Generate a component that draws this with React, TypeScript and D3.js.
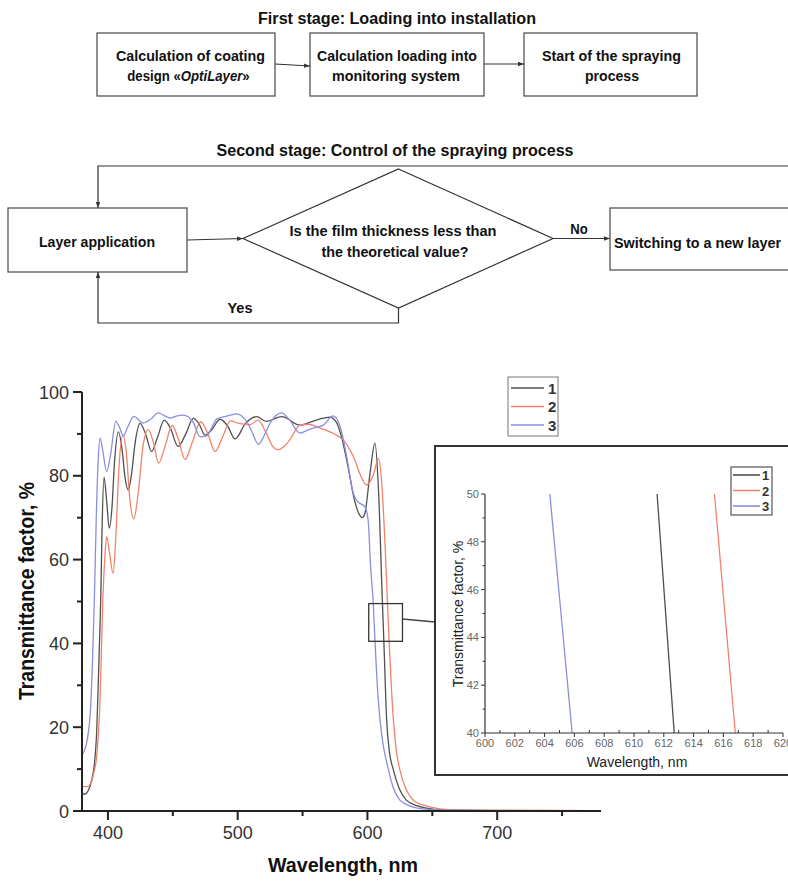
import React from "react";
import * as d3 from "d3";

const W = 788;
const H = 881;

// Transmittance spectra, [wavelength nm, transmittance %]
const curve1: [number, number][] = [
  [380, 4.3], [382, 4.0], [385, 5.0], [387.5, 7.4], [389.5, 11], [391.3, 18.6], [393.3, 38.4],
  [394.4, 50], [395.5, 68], [397, 79.7], [399, 74], [401, 67.5], [403, 72], [405, 83], [408, 90.5],
  [411, 86], [413, 80], [415.7, 76.6], [418, 80], [421, 88], [424.7, 92.5], [429, 90], [433.7, 85.8],
  [438, 89], [443.4, 93.3], [448, 91.5], [454, 87], [460, 90], [465.8, 93.7], [470, 92.5],
  [474.8, 89.7], [480, 91], [486.4, 93.5], [492, 92], [498, 88.8], [506, 92.5], [514.6, 94.1],
  [522, 93], [534, 94.1], [548, 92.1], [556, 92.8], [563, 93.5], [571, 94], [576, 92.8],
  [580, 89.3], [585, 82.2], [590, 74.2], [594, 70.6], [596, 70], [598, 71], [602, 80.6],
  [605.8, 87.8], [608.4, 77.4], [611.5, 50], [612.7, 40], [614.8, 21.7], [617, 14], [620, 9.8],
  [625, 5], [630, 2.6], [638, 1.3], [645.6, 0.7], [660, 0.2], [700, 0.1], [780, 0.1],
];

const curve2: [number, number][] = [
  [380, 5.8], [384, 5.8], [386.5, 6.5], [389, 9], [391.3, 13], [393.9, 26.5], [396, 50],
  [397.5, 60], [399, 65.5], [401, 62], [404, 56.7], [406, 65], [408.5, 82], [411.5, 89.7],
  [414, 86], [417, 74], [420, 69.7], [423, 75], [427, 87], [431, 91], [435, 88], [439, 83],
  [444, 87], [449.5, 92], [454, 89], [459.4, 83.9], [465, 88], [471.5, 92.9], [477, 90],
  [482.5, 85.8], [488, 89], [494.5, 93.1], [501, 92.5], [509.5, 92.2], [515.6, 93.3],
  [522, 90.2], [527, 87], [531, 86.2], [535, 86.8], [540, 88.5], [548, 92.1], [555, 92.3],
  [561, 91.7], [567, 91], [573.7, 90.1], [581.4, 88.5], [586.5, 86.2], [590, 84], [594, 80.6],
  [599.4, 77.8], [604, 79.8], [608.7, 84.1], [611, 78.3], [613.5, 64], [615.4, 50], [616.8, 40],
  [620, 21.7], [622, 15], [625, 9.8], [630, 5], [635.3, 2.6], [642, 1.5], [648, 1], [660, 0.4],
  [700, 0.2], [780, 0.1],
];

const curve3: [number, number][] = [
  [380, 13.4], [383, 15.5], [385, 19], [386.5, 24], [388, 35], [389.5, 50], [391, 70],
  [392.5, 84], [394, 89], [396, 86], [399, 81], [402, 85], [406, 93], [409, 91.5], [411.8, 89.5],
  [415, 91.5], [420, 94.2], [427, 92.6], [433, 93.5], [438.6, 95], [448, 93.8], [452, 94.2],
  [458, 94.5], [465.5, 92.9], [471, 89.3], [476, 89.5], [480, 91.5], [484, 93.6], [491, 94.2],
  [499, 94.8], [507, 92.9], [511, 90.5], [516, 87.5], [521, 90], [525, 92.6], [534, 95],
  [540, 93.3], [548, 90.2], [553, 90.8], [558, 91.4], [566, 92.1], [573.5, 94.3], [579, 91.7],
  [584, 84.6], [589, 75.9], [592, 74], [595, 73.3], [598, 72.6], [600.5, 69.5], [602.5, 58],
  [604.4, 50], [605.9, 40], [608, 28], [609.7, 21.7], [612, 16], [615, 11.4], [620, 5.5],
  [625, 2.6], [632, 1.3], [643, 0.5], [660, 0.2], [700, 0.1], [780, 0.1],
];

// inset (zoom 600-620 nm, 40-50 %)
const inset1: [number, number][] = [[611.55, 50], [612.7, 40]];
const inset2: [number, number][] = [[615.4, 50], [616.8, 40]];
const inset3: [number, number][] = [[604.35, 50], [605.85, 40]];

const seriesNames = ["1", "2", "3"];
const colors = ["#505050", "#f2826b", "#8a8ee0"];

const xMajor = [400, 500, 600, 700];
const xMinor = [450, 550, 650, 750];
const yMajor = [0, 20, 40, 60, 80, 100];
const yMinor = [10, 30, 50, 70, 90];

const insetXMajor = [600, 602, 604, 606, 608, 610, 612, 614, 616, 618, 620];
const insetYMajor = [40, 42, 44, 46, 48, 50];

// region marked on the main chart
const zoomX = [601, 627];
const zoomY = [40.5, 49.5];

const x = d3.scaleLinear().domain([380, 780]).range([82, 601]);
const y = d3.scaleLinear().domain([0, 100]).range([811, 392]);
const xi = d3.scaleLinear().domain([600, 620]).range([485, 783]);
const yi = d3.scaleLinear().domain([40, 50]).range([733, 494]);

const mainLine = d3
  .line<[number, number]>()
  .x((d) => x(d[0]))
  .y((d) => y(d[1]))
  .curve(d3.curveMonotoneX);

const insetLine = d3
  .line<[number, number]>()
  .x((d) => xi(d[0]))
  .y((d) => yi(d[1]));

const NARROW = "'Liberation Sans Narrow', 'Arial Narrow', 'Liberation Sans', Arial, sans-serif";
const SANS = "'Liberation Sans', Arial, sans-serif";

function FlowText(p: { x: number; y: number; w: number; size?: number; children: React.ReactNode; anchor?: string }) {
  return (
    <text
      x={p.x}
      y={p.y}
      textAnchor={p.anchor || "middle"}
      fontFamily={NARROW}
      fontWeight="bold"
      fontSize={p.size || 15}
      fill="#111"
      textLength={p.w}
      lengthAdjust="spacingAndGlyphs"
    >
      {p.children}
    </text>
  );
}

function Flowchart() {
  const box = { fill: "white", stroke: "#555", strokeWidth: 1.3 };
  const arr = { stroke: "#333", strokeWidth: 1.2, fill: "none", markerEnd: "url(#arrow)" };
  return (
    <g>
      <defs>
        <marker id="arrow" viewBox="0 0 8 6" refX="8" refY="3" markerWidth="6" markerHeight="5" orient="auto" markerUnits="userSpaceOnUse">
          <path d="M0,0 L8,3 L0,6 Z" fill="#333" />
        </marker>
      </defs>
      <FlowText x={397} y={24} w={278} size={16}>First stage: Loading into installation</FlowText>

      <rect x={97} y={33} width={178} height={63} {...box} />
      <rect x={310} y={33} width={174} height={63} {...box} />
      <rect x={524} y={33} width={173} height={63} {...box} />
      <line x1={275} y1={64} x2={310} y2={66} {...arr} />
      <line x1={484} y1={64} x2={524} y2={64} {...arr} />

      <FlowText x={190.5} y={61} w={149}>Calculation of coating</FlowText>
      <text
        transform="translate(188.5,81) scale(0.88,1)"
        textAnchor="middle"
        fontFamily={NARROW}
        fontWeight="bold"
        fontSize={15}
        fill="#111"
      >
        design «<tspan fontStyle="italic">OptiLayer</tspan>»
      </text>
      <FlowText x={397} y={61} w={160}>Calculation loading into</FlowText>
      <FlowText x={396} y={81} w={128}>monitoring system</FlowText>
      <FlowText x={611.5} y={61} w={139}>Start of the spraying</FlowText>
      <FlowText x={612} y={81} w={54}>process</FlowText>

      <FlowText x={395} y={156} w={357} size={16}>Second stage: Control of the spraying process</FlowText>

      <polyline points="790,166 98,166 98,208" {...arr} />
      <rect x={8} y={208} width={179} height={64} {...box} />
      <FlowText x={97} y={247} w={116}>Layer application</FlowText>
      <line x1={187} y1={240} x2={243} y2={238.5} {...arr} />

      <polygon points="398.5,169 553,238.5 398.5,308 243,238.5" fill="white" stroke="#333" strokeWidth={1.2} />
      <FlowText x={393} y={236} w={207}>Is the film thickness less than</FlowText>
      <FlowText x={395} y={257} w={147}>the theoretical value?</FlowText>

      <FlowText x={579} y={234} w={17.5}>No</FlowText>
      <line x1={553} y1={238.5} x2={610} y2={238.5} {...arr} />
      <rect x={610} y={208} width={200} height={62} {...box} />
      <FlowText x={614} y={248} w={167} anchor="start">Switching to a new layer</FlowText>

      <polyline points="398.5,308 398.5,323 98,323 98,272" {...arr} />
      <FlowText x={240} y={313} w={25}>Yes</FlowText>
    </g>
  );
}

function MainChart() {
  const curves = [curve1, curve2, curve3];
  const insets = [inset1, inset2, inset3];
  const axisColor = "#222";
  return (
    <g>
      {curves.map((c, i) => (
        <path key={i} d={mainLine(c) || ""} fill="none" stroke={colors[i]} strokeWidth={1.3} />
      ))}

      {/* axes */}
      <line x1={x.range()[0]} x2={x.range()[1]} y1={y(0)} y2={y(0)} stroke={axisColor} strokeWidth={2} />
      <line x1={x.range()[0]} x2={x.range()[0]} y1={y(0) + 1} y2={y(100)} stroke={axisColor} strokeWidth={2} />
      {xMajor.map((t) => (
        <g key={t}>
          <line x1={x(t)} x2={x(t)} y1={y(0)} y2={y(0) + 9} stroke={axisColor} strokeWidth={2} />
          <text x={x(t)} y={839} textAnchor="middle" fontFamily={SANS} fontSize={18} fill="#333">{t}</text>
        </g>
      ))}
      {xMinor.map((t) => (
        <line key={t} x1={x(t)} x2={x(t)} y1={y(0)} y2={y(0) + 5} stroke={axisColor} strokeWidth={2} />
      ))}
      {yMajor.map((t) => (
        <g key={t}>
          <line x1={x.range()[0] - 9} x2={x.range()[0]} y1={y(t)} y2={y(t)} stroke={axisColor} strokeWidth={2} />
          <text x={69} y={y(t) + 6.5} textAnchor="end" fontFamily={SANS} fontSize={18} fill="#333">{t}</text>
        </g>
      ))}
      {yMinor.map((t) => (
        <line key={t} x1={x.range()[0] - 5} x2={x.range()[0]} y1={y(t)} y2={y(t)} stroke={axisColor} strokeWidth={2} />
      ))}

      <text
        transform="translate(34,591) rotate(-90)"
        textAnchor="middle"
        fontFamily={NARROW}
        fontWeight="bold"
        fontSize={22}
        fill="#111"
        textLength={218}
        lengthAdjust="spacingAndGlyphs"
      >
        Transmittance factor, %
      </text>
      <text
        x={343}
        y={872}
        textAnchor="middle"
        fontFamily={NARROW}
        fontWeight="bold"
        fontSize={21}
        fill="#111"
        textLength={150}
        lengthAdjust="spacingAndGlyphs"
      >
        Wavelength, nm
      </text>

      {/* legend */}
      <rect x={508} y={377} width={50} height={59} fill="white" stroke="#777" strokeWidth={1} />
      {seriesNames.map((s, i) => (
        <g key={s}>
          <line x1={511} x2={544} y1={388 + i * 18.5} y2={388 + i * 18.5} stroke={colors[i]} strokeWidth={1.6} />
          <text x={548} y={393.5 + i * 18.5} fontFamily={SANS} fontWeight="bold" fontSize={15} fill="#333">{s}</text>
        </g>
      ))}

      {/* zoom marker */}
      <rect
        x={x(zoomX[0])}
        y={y(zoomY[1])}
        width={x(zoomX[1]) - x(zoomX[0])}
        height={y(zoomY[0]) - y(zoomY[1])}
        fill="none"
        stroke="#333"
        strokeWidth={1.3}
      />
      <line x1={x(zoomX[1])} y1={619} x2={435} y2={622} stroke="#444" strokeWidth={1.3} />

      {/* inset */}
      <rect x={435} y={446} width={360} height={329} fill="white" stroke="#333" strokeWidth={2} />
      {insets.map((c, i) => (
        <path key={i} d={insetLine(c) || ""} fill="none" stroke={colors[i]} strokeWidth={1.3} />
      ))}
      <line x1={xi(600)} x2={xi(620)} y1={yi(40)} y2={yi(40)} stroke="#333" strokeWidth={1.2} />
      <line x1={xi(600)} x2={xi(600)} y1={yi(40)} y2={yi(50)} stroke="#333" strokeWidth={1.2} />
      {insetXMajor.map((t) => (
        <g key={t}>
          <line x1={xi(t)} x2={xi(t)} y1={yi(40)} y2={yi(40) + 4} stroke="#333" strokeWidth={1} />
          {t < 620 && <line x1={xi(t + 1)} x2={xi(t + 1)} y1={yi(40)} y2={yi(40) - 3} stroke="#333" strokeWidth={1} />}
          <text x={xi(t)} y={747} textAnchor="middle" fontFamily={SANS} fontSize={11} fill="#666">{t}</text>
        </g>
      ))}
      {insetYMajor.map((t) => (
        <g key={t}>
          <line x1={xi(600) - 4} x2={xi(600)} y1={yi(t)} y2={yi(t)} stroke="#333" strokeWidth={1} />
          {t < 50 && <line x1={xi(600) - 2.5} x2={xi(600)} y1={yi(t + 1)} y2={yi(t + 1)} stroke="#333" strokeWidth={1} />}
          <text x={479} y={yi(t) + 4} textAnchor="end" fontFamily={SANS} fontSize={11} fill="#666">{t}</text>
        </g>
      ))}
      <text transform="translate(463,614) rotate(-90)" textAnchor="middle" fontFamily={SANS} fontSize={14} fill="#222">
        Transmittance factor, %
      </text>
      <text x={637} y={767} textAnchor="middle" fontFamily={SANS} fontSize={14} fill="#222">
        Wavelength, nm
      </text>
      <rect x={731} y={467} width={41} height={48} fill="white" stroke="#555" strokeWidth={1.2} />
      {seriesNames.map((s, i) => (
        <g key={s}>
          <line x1={733} x2={760} y1={475 + i * 15.5} y2={475 + i * 15.5} stroke={colors[i]} strokeWidth={1.6} />
          <text x={762} y={480 + i * 15.5} fontFamily={SANS} fontWeight="bold" fontSize={13} fill="#333">{s}</text>
        </g>
      ))}
    </g>
  );
}

export default function App() {
  return (
    <svg
      width={W}
      height={H}
      viewBox={`0 0 ${W} ${H}`}
      style={{ position: "absolute", left: 0, top: 0, background: "white", display: "block" }}
    >
      <rect width={W} height={H} fill="white" />
      <Flowchart />
      <MainChart />
    </svg>
  );
}
